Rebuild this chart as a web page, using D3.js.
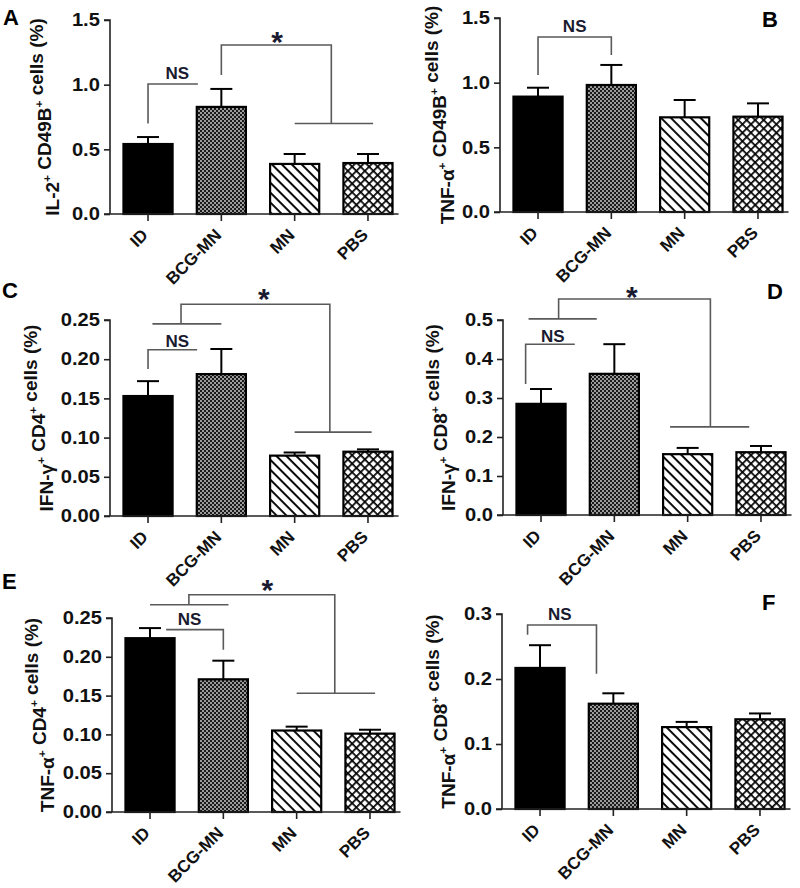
<!DOCTYPE html>
<html><head><meta charset="utf-8">
<script src="https://cdn.jsdelivr.net/npm/d3@7/dist/d3.min.js"></script>
<style>
body{margin:0;background:#fff;}
svg{display:block;font-family:"Liberation Sans",Arial,sans-serif;}
</style></head>
<body><svg id="chart" width="800" height="888"></svg>
<script>
// ---------- DATA ----------
const categories = ["ID", "BCG-MN", "MN", "PBS"];
const panelIds = ["A", "B", "C", "D", "E", "F"];
const yTitles = [
  "IL-2{+} CD49B{+} cells (%)",
  "TNF-α{+} CD49B{+} cells (%)",
  "IFN-γ{+} CD4{+} cells (%)",
  "IFN-γ{+} CD8{+} cells (%)",
  "TNF-α{+} CD4{+} cells (%)",
  "TNF-α{+} CD8{+} cells (%)"
];
const meanA = [0.541, 0.828, 0.387, 0.394], semA = [0.054, 0.139, 0.077, 0.070];
const meanB = [0.892, 0.982, 0.732, 0.737], semB = [0.069, 0.155, 0.134, 0.103];
const meanC = [0.153, 0.181, 0.077, 0.082], semC = [0.019, 0.032, 0.004, 0.003];
const meanD = [0.285, 0.362, 0.156, 0.161], semD = [0.038, 0.076, 0.016, 0.016];
const meanE = [0.224, 0.171, 0.105, 0.101], semE = [0.013, 0.024, 0.005, 0.005];
const meanF = [0.217, 0.162, 0.126, 0.138], semF = [0.035, 0.016, 0.008, 0.009];
const yMaxes = [1.5, 1.5, 0.25, 0.5, 0.25, 0.3];
const tickSteps = [0.5, 0.5, 0.05, 0.1, 0.05, 0.1];
const tickFormats = [".1f", ".1f", ".2f", ".1f", ".2f", ".1f"];

// significance annotations: bracket polylines in (category index, value) units
const bracketsA = [[[0,0.70],[0,1.005],[0.68,1.005]], [[1,1.075],[1,1.307],[2.5,1.307],[2.5,0.70]], [[2,0.70],[3.07,0.70]]];
const bracketsB = [[[0,1.06],[0,1.353],[1,1.353],[1,1.214]]];
const bracketsC = [[[0,0.1875],[0,0.212],[0.67,0.212]], [[0.06,0.245],[1.0,0.245]], [[0.45,0.245],[0.45,0.270],[2.48,0.270],[2.48,0.107]], [[2,0.107],[3.05,0.107]]];
const bracketsD = [[[-0.21,0.336],[-0.21,0.438],[0.46,0.438]], [[-0.17,0.503],[0.76,0.503]], [[0.24,0.503],[0.24,0.554],[2.31,0.554],[2.31,0.226]], [[1.76,0.226],[2.84,0.226]]];
const bracketsE = [[[0.22,0.235],[1.0,0.235],[1.0,0.209]], [[0,0.267],[1.07,0.267]], [[0.53,0.267],[0.53,0.280],[2.52,0.280],[2.52,0.153]], [[2,0.153],[3.07,0.153]]];
const bracketsF = [[[-0.17,0.268],[-0.17,0.283],[0.77,0.283],[0.77,0.208]]];
// labels: [text, category index, value]
const labelsA = [["NS",0.40,1.044],["*",1.76,1.377]];
const labelsB = [["NS",0.50,1.392]];
const labelsC = [["NS",0.40,0.2156],["*",1.58,0.2845]];
const labelsD = [["NS",0.16,0.444],["*",1.24,0.574]];
const labelsE = [["NS",0.54,0.241],["*",1.60,0.294]];
const labelsF = [["NS",0.27,0.291]];

const means = [meanA, meanB, meanC, meanD, meanE, meanF];
const sems = [semA, semB, semC, semD, semE, semF];
const brackets = [bracketsA, bracketsB, bracketsC, bracketsD, bracketsE, bracketsF];
const labels = [labelsA, labelsB, labelsC, labelsD, labelsE, labelsF];

// ---------- LAYOUT ----------
const layout = [
  {ax:110, y0:214, y1:20,  lab:51, lx:3,   ly:25},
  {ax:500, y0:212, y1:18,  lab:46, lx:762, ly:27},
  {ax:110, y0:516, y1:320, lab:57, lx:2,   ly:298},
  {ax:503, y0:515, y1:320, lab:48, lx:767, ly:299},
  {ax:112, y0:812, y1:618, lab:58, lx:2,   ly:589},
  {ax:502, y0:809, y1:614, lab:47, lx:762, ly:610}
];
const fills = ["#000", "url(#checker)", "url(#diag)", "url(#cross)"];

const svg = d3.select("#chart");
const defs = svg.append("defs");
// checkerboard
const pc = defs.append("pattern").attr("id","checker").attr("patternUnits","userSpaceOnUse").attr("width",4).attr("height",4);
pc.append("rect").attr("width",4).attr("height",4).attr("fill","#1a1a1a");
pc.append("rect").attr("x",0).attr("y",0).attr("width",2).attr("height",2).attr("fill","#9c9c9c");
pc.append("rect").attr("x",2).attr("y",2).attr("width",2).attr("height",2).attr("fill","#9c9c9c");
// diagonal "\"
const pd = defs.append("pattern").attr("id","diag").attr("patternUnits","userSpaceOnUse").attr("width",7).attr("height",7).attr("patternTransform","rotate(45)");
pd.append("rect").attr("width",7).attr("height",7).attr("fill","#fff");
pd.append("rect").attr("x",0).attr("y",0).attr("width",7).attr("height",1.9).attr("fill","#000");
// crosshatch
const px = defs.append("pattern").attr("id","cross").attr("patternUnits","userSpaceOnUse").attr("width",6).attr("height",6).attr("patternTransform","rotate(45)");
px.append("rect").attr("width",6).attr("height",6).attr("fill","#fff");
px.append("rect").attr("x",0).attr("y",0).attr("width",6).attr("height",1.7).attr("fill","#000");
px.append("rect").attr("x",0).attr("y",0).attr("width",1.7).attr("height",6).attr("fill","#000");

function addTitle(sel, str, size){
  const parts = str.split(/(\{\+\})/);
  parts.forEach(p => {
    if (p === "{+}") {
      sel.append("tspan").attr("font-size", size*0.62).attr("dy", -size*0.42).text("+");
      sel.append("tspan").attr("font-size", size).attr("dy", size*0.42).text("");
    } else if (p.length) {
      sel.append("tspan").text(p);
    }
  });
}

panelIds.forEach((pid, k) => {
  const L = layout[k];
  const g = svg.append("g");
  const y = d3.scaleLinear().domain([0, yMaxes[k]]).range([L.y0, L.y1]);
  const x = d3.scaleBand().domain(categories).range([L.ax + 1, L.ax + 295]).paddingInner(0.33).paddingOuter(0.17);
  const step = x.step();
  const xi = i => x(categories[0]) + x.bandwidth()/2 + i*step;

  const data = categories.map((c, i) => ({c, m: means[k][i], s: sems[k][i], i}));
  // error bars (upper only)
  g.selectAll("line.err").data(data).join("line")
    .attr("x1", d => x(d.c) + x.bandwidth()/2).attr("x2", d => x(d.c) + x.bandwidth()/2)
    .attr("y1", d => y(d.m)).attr("y2", d => y(d.m + d.s))
    .attr("stroke", "#000").attr("stroke-width", 2);
  g.selectAll("line.cap").data(data).join("line")
    .attr("x1", d => x(d.c) + x.bandwidth()/2 - 11).attr("x2", d => x(d.c) + x.bandwidth()/2 + 11)
    .attr("y1", d => y(d.m + d.s)).attr("y2", d => y(d.m + d.s))
    .attr("stroke", "#000").attr("stroke-width", 2);
  // bars
  g.selectAll("rect.bar").data(data).join("rect")
    .attr("x", d => x(d.c)).attr("width", x.bandwidth())
    .attr("y", d => y(d.m)).attr("height", d => y(0) - y(d.m))
    .attr("fill", d => fills[d.i]).attr("stroke", "#000").attr("stroke-width", 2.2);

  // y axis
  const ticks = d3.range(0, yMaxes[k] + 1e-9, tickSteps[k]);
  const ya = g.append("g").attr("transform", `translate(${L.ax},0)`)
    .call(d3.axisLeft(y).tickValues(ticks).tickFormat(d3.format(tickFormats[k])).tickSize(6).tickPadding(3));
  ya.select(".domain").attr("stroke", "#222").attr("stroke-width", 1.6).attr("d", `M-6,${L.y1}H0V${L.y0}`);
  ya.selectAll(".tick line").attr("stroke", "#222").attr("stroke-width", 1.6);
  ya.selectAll(".tick text").attr("font-size", 18).attr("font-weight", "bold").attr("fill", "#111")
    .attr("font-family", "'Liberation Sans',Arial,sans-serif").attr("transform", "scale(1.12,1)");

  // x axis
  const xa = g.append("g").attr("transform", `translate(0,${L.y0})`)
    .call(d3.axisBottom(x).tickSize(7).tickFormat(""));
  xa.select(".domain").attr("stroke", "#222").attr("stroke-width", 1.6)
    .attr("d", `M${L.ax - 6},0H${x(categories[3]) + x.bandwidth() + 6}`);
  xa.selectAll(".tick line").attr("stroke", "#222").attr("stroke-width", 1.6);
  g.selectAll("text.cat").data(categories).join("text")
    .attr("transform", c => `translate(${x(c) + x.bandwidth()/2 + 1},${L.y0 + 22}) rotate(-45)`)
    .attr("text-anchor", "end").attr("font-size", 17).attr("font-weight", "bold").attr("fill", "#111")
    .text(c => c);

  // y title
  const t = g.append("text")
    .attr("transform", `translate(${L.ax - L.lab},${(L.y0 + L.y1)/2}) rotate(-90)`)
    .attr("text-anchor", "middle").attr("font-size", 19).attr("font-weight", "bold").attr("fill", "#111");
  addTitle(t, yTitles[k], 19);

  // brackets
  const line = d3.line().x(p => xi(p[0])).y(p => y(p[1]));
  g.selectAll("path.br").data(brackets[k]).join("path")
    .attr("d", line).attr("fill", "none").attr("stroke", "#5a5a5a").attr("stroke-width", 1.6);
  labels[k].forEach(([txt, ix, v]) => {
    if (txt === "*") {
      g.append("text").attr("x", xi(ix)).attr("y", y(v) + 16).attr("text-anchor", "middle")
        .attr("font-size", 30).attr("font-weight", "bold").attr("fill", "#1a1a30").text(txt);
    } else {
      g.append("text").attr("x", xi(ix)).attr("y", y(v)).attr("text-anchor", "middle")
        .attr("font-size", 17).attr("font-weight", "bold").attr("fill", "#1a1a30").text(txt);
    }
  });

  // panel letter
  g.append("text").attr("x", L.lx).attr("y", L.ly).attr("font-size", 22).attr("font-weight", "bold")
    .attr("fill", "#000").text(pid);
});
</script></body></html>
